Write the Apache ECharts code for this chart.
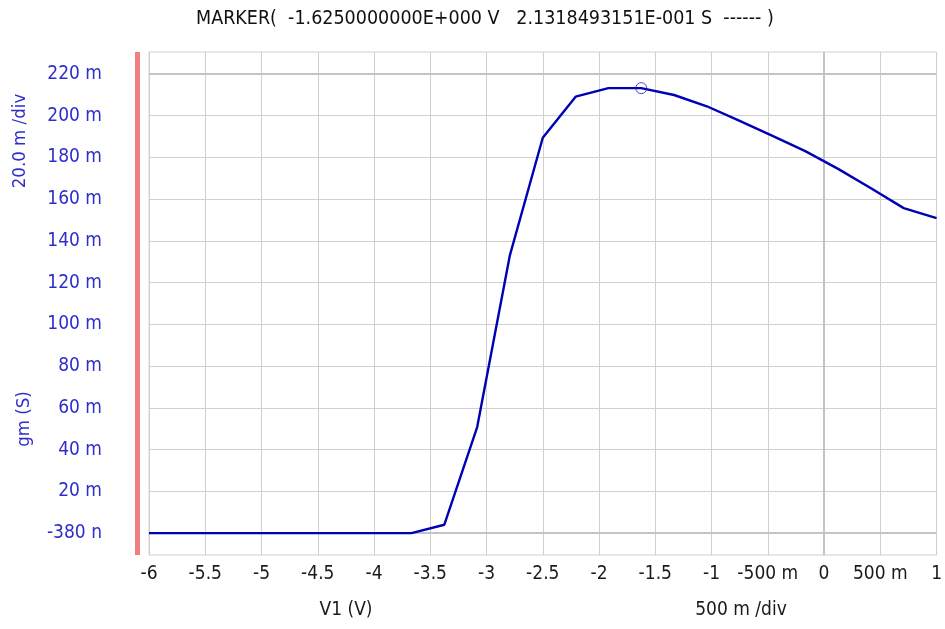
<!DOCTYPE html>
<html>
<head>
<meta charset="utf-8">
<script src="https://cdn.jsdelivr.net/npm/echarts@6/dist/echarts.min.js"></script>
<style>
html,body{margin:0;padding:0;background:#fff;}
#c{width:945px;height:629px;}
</style>
</head>
<body>
<div id="c"></div>
<script>
// V1 sweep (V)
var v1 = [-6, -5.708, -5.417, -5.125, -4.833, -4.542, -4.25, -3.958, -3.667, -3.375, -3.083, -2.792, -2.5,
          -2.208, -1.917, -1.625, -1.333, -1.042, -0.75, -0.458, -0.167, 0.125, 0.417, 0.708, 1];
// gm (S)
var gm = [-3.8e-7, -3.8e-7, -3.8e-7, -3.8e-7, -3.8e-7, -3.8e-7, -3.8e-7, -3.8e-7, -3.8e-7, 0.0040, 0.0508, 0.1332, 0.1894,
          0.2091, 0.2132, 0.21318493, 0.2099, 0.2045, 0.1975, 0.1903, 0.1830, 0.1745, 0.1652, 0.1557, 0.1509];
// marker
var markerX = [-1.625];
var markerY = [0.21318493151];
// tick values
var yTicks = [-3.8e-7, 0.02, 0.04, 0.06, 0.08, 0.10, 0.12, 0.14, 0.16, 0.18, 0.20, 0.22];
var titleText = 'MARKER(  -1.6250000000E+000 V   2.1318493151E-001 S  ------ )';

var FONT = '"DejaVu Sans Condensed", "DejaVu Sans", sans-serif';
var BLUE = '#2e2ecc';

function yFmt(v) {
  if (Math.abs(v) < 1e-6) return Math.round(v * 1e9) + ' n';
  return Math.round(v * 1000) + ' m';
}
function xFmt(v) {
  var r = Math.round(v * 1000) / 1000;
  if (r !== 0 && Math.abs(r) < 1) return Math.round(r * 1000) + ' m';
  return String(r);
}

var chart = echarts.init(document.getElementById('c'), null, {renderer: 'canvas'});
var lineData = v1.map(function (x, i) { return [x, gm[i]]; });
var markData = markerX.map(function (x, i) { return [x, markerY[i]]; });

chart.setOption({
  animation: false,
  backgroundColor: '#fff',
  title: {
    text: titleText,
    left: 191, top: 4,
    textStyle: {fontFamily: FONT, fontSize: 19.5, fontWeight: 'normal', color: '#111'}
  },
  grid: {
    left: 149, right: 7, top: 52, bottom: 74,
    show: true, borderColor: '#d0d0d0', borderWidth: 1, backgroundColor: 'transparent'
  },
  xAxis: {
    type: 'value', min: -6, max: 1, interval: 0.5,
    axisLine: {show: false},
    axisTick: {show: false},
    axisLabel: {formatter: xFmt, fontFamily: FONT, fontSize: 19, color: '#1a1a1a', margin: 10},
    splitLine: {show: true, lineStyle: {color: '#d0d0d0', width: 1}}
  },
  yAxis: {
    type: 'value', min: -0.0105, max: 0.2305,
    offset: 12,
    axisLine: {show: true, onZero: false, lineStyle: {color: '#f08080', width: 5, cap: 'butt'}},
    axisTick: {show: false, customValues: yTicks},
    axisLabel: {customValues: yTicks, formatter: yFmt, fontFamily: FONT, fontSize: 19, color: BLUE, margin: 35},
    splitLine: {show: true, lineStyle: {color: '#d0d0d0', width: 1}}
  },
  graphic: [
    {type: 'text', x: 20, y: 141, rotation: Math.PI / 2,
     style: {text: '20.0 m /div', font: '18.5px ' + FONT, fill: BLUE, align: 'center', verticalAlign: 'middle'}},
    {type: 'text', x: 24, y: 419, rotation: Math.PI / 2,
     style: {text: 'gm (S)', font: '18.5px ' + FONT, fill: BLUE, align: 'center', verticalAlign: 'middle'}},
    {type: 'text', x: 346, y: 610,
     style: {text: 'V1 (V)', font: '19px ' + FONT, fill: '#1a1a1a', align: 'center', verticalAlign: 'middle'}},
    {type: 'text', x: 741, y: 610,
     style: {text: '500 m /div', font: '19px ' + FONT, fill: '#1a1a1a', align: 'center', verticalAlign: 'middle'}}
  ],
  series: [
    {
      type: 'line', data: lineData, showSymbol: false, symbol: 'none',
      lineStyle: {color: '#0000b4', width: 2.4},
      z: 5,
      markLine: {
        silent: true, symbol: 'none', label: {show: false},
        lineStyle: {color: '#c4c4c4', width: 2, type: 'solid'},
        data: [{xAxis: 0}, {yAxis: -3.8e-7}, {yAxis: 0.22}],
        z: 1
      }
    },
    {
      type: 'scatter', data: markData, symbol: 'circle', symbolSize: 11,
      itemStyle: {color: 'rgba(0,0,0,0)', borderColor: '#2020c0', borderWidth: 1},
      z: 6
    }
  ]
});
</script>
</body>
</html>
